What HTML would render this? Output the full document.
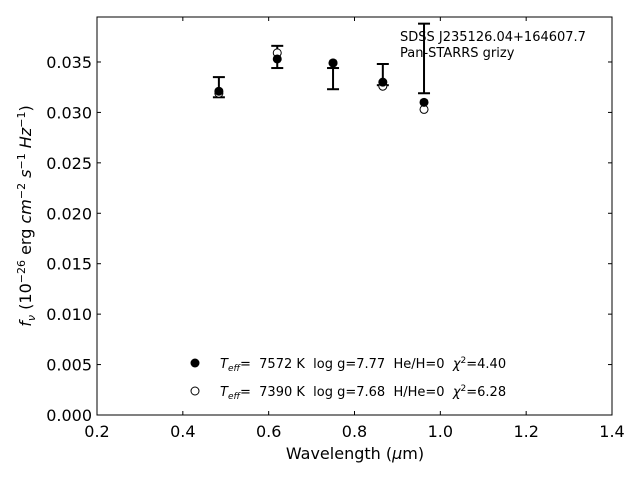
<!DOCTYPE html>
<html><head><meta charset="utf-8"><style>
body{margin:0;background:#fff}
text{font-family:"DejaVu Sans","Liberation Sans",sans-serif;white-space:pre}
</style></head><body>
<svg id="c" width="640" height="480" viewBox="0 0 640 480"></svg>
<script>
const wavelengths=[0.484,0.620,0.750,0.866,0.962];
const obsFlux=[0.0321,0.0353,0.0349,0.0330,0.0310];
const errLow=[0.0315,0.0344,0.0323,0.0327,0.0319];
const errHigh=[0.0335,0.0366,0.0344,0.0348,0.0388];
const modelFlux=[0.0319,0.0359,0.0349,0.0326,0.0303];
const xTicks=[0.2,0.4,0.6,0.8,1.0,1.2,1.4];
const yTicks=[0,0.005,0.01,0.015,0.02,0.025,0.03,0.035];
const X0=97,X1=612,Y0=415,Y1=17,XMIN=0.2,XMAX=1.4,YMIN=0,YMAX=0.03946;
const sx=v=>X0+(v-XMIN)/(XMAX-XMIN)*(X1-X0);
const sy=v=>Y0-(v-YMIN)/(YMAX-YMIN)*(Y0-Y1);
const svg=document.getElementById('c');
const NS='http://www.w3.org/2000/svg';
function mk(tag,attrs,txt){const e=document.createElementNS(NS,tag);for(const k in attrs)e.setAttribute(k,attrs[k]);if(txt!=null)e.textContent=txt;svg.appendChild(e);return e;}
let e;
e=mk('rect',{x:X0,y:Y1,width:X1-X0,height:Y0-Y1,fill:'none',stroke:'#000','stroke-width':1});


xTicks.forEach(t=>{const x=sx(t);
 e=mk('line',{x1:x,x2:x,y1:Y0,y2:Y0-4,stroke:'#000'});
 
 
 e=mk('line',{x1:x,x2:x,y1:Y1,y2:Y1+4,stroke:'#000'});
 
 
 e=mk('text',{x:x,y:Y0+22,'text-anchor':'middle','font-size':16},t.toFixed(1));
 
 
});
yTicks.forEach(t=>{const y=sy(t);
 e=mk('line',{x1:X0,x2:X0+4,y1:y,y2:y,stroke:'#000'});
 
 
 e=mk('line',{x1:X1,x2:X1-4,y1:y,y2:y,stroke:'#000'});
 
 
 e=mk('text',{x:X0-5,y:y+6,'text-anchor':'end','font-size':16},t.toFixed(3));
 
 
});
wavelengths.forEach((w,i)=>{const x=sx(w);
 e=mk('line',{x1:x,x2:x,y1:sy(errLow[i]),y2:sy(errHigh[i]),stroke:'#000','stroke-width':2});
 
 
 [errLow[i],errHigh[i]].forEach(v=>{
  e=mk('line',{x1:x-6,x2:x+6,y1:sy(v),y2:sy(v),stroke:'#000','stroke-width':2});
  
  
 });
 e=mk('circle',{cx:x,cy:sy(modelFlux[i]),r:4,fill:'#fff',stroke:'#000'});
 
 
 e=mk('circle',{cx:x,cy:sy(obsFlux[i]),r:4.5,fill:'#000'});
 
 
});
</script>
<svg width="640" height="480" style="position:absolute;left:0;top:0">
<text x="400" y="41" font-size="13">SDSS J235126.04+164607.7</text>
<text x="400" y="57" font-size="13">Pan-STARRS grizy</text>
<circle cx="195" cy="363" r="4.5" fill="#000"/>
<text x="220" y="368" font-size="13"><tspan font-style="italic">T</tspan><tspan font-size="9" font-style="italic" dy="3">eff</tspan><tspan dy="-3">=  7572 K  log g=7.77  He/H=0  </tspan><tspan font-style="italic">χ</tspan><tspan font-size="9" dy="-5">2</tspan><tspan dy="5">=4.40</tspan></text>
<circle cx="195" cy="391" r="4" fill="#fff" stroke="#000"/>
<text x="220" y="396" font-size="13"><tspan font-style="italic">T</tspan><tspan font-size="9" font-style="italic" dy="3">eff</tspan><tspan dy="-3">=  7390 K  log g=7.68  H/He=0  </tspan><tspan font-style="italic">χ</tspan><tspan font-size="9" dy="-5">2</tspan><tspan dy="5">=6.28</tspan></text>
<text x="355" y="459" font-size="16" text-anchor="middle">Wavelength (<tspan font-style="italic">μ</tspan>m)</text>
<text transform="translate(31,216) rotate(-90)" font-size="16" text-anchor="middle"><tspan font-style="italic">f</tspan><tspan font-size="11" font-style="italic" dy="4">ν</tspan><tspan dy="-4"> (10</tspan><tspan font-size="11" dy="-6">−26</tspan><tspan dy="6"> erg </tspan><tspan font-style="italic">cm</tspan><tspan font-size="11" dy="-6">−2</tspan><tspan dy="6" font-style="italic"> s</tspan><tspan font-size="11" dy="-6">−1</tspan><tspan dy="6" font-style="italic"> Hz</tspan><tspan font-size="11" dy="-6">−1</tspan><tspan dy="6">)</tspan></text>
</svg>
</body></html>
